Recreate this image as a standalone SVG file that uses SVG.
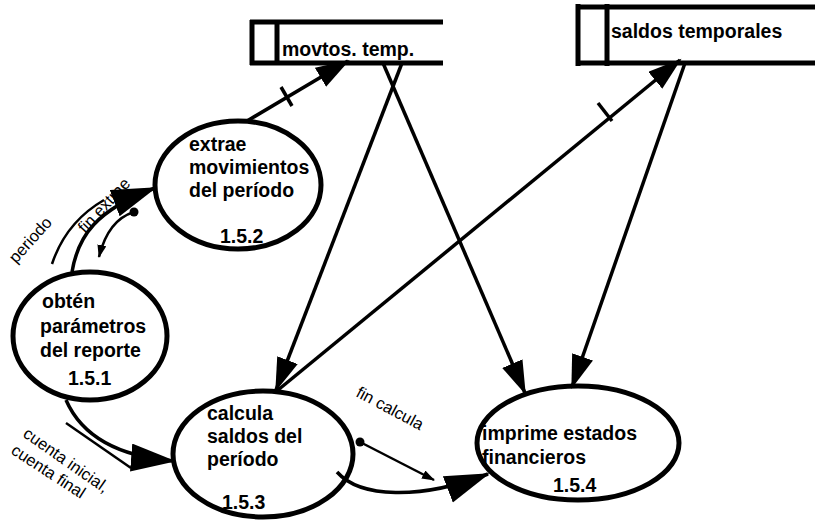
<svg xmlns="http://www.w3.org/2000/svg" width="815" height="521" viewBox="0 0 815 521">
<style>
.bg{fill:#fff}
.proc{fill:none;stroke:#000;stroke-width:5}
.store{fill:none;stroke:#000;stroke-width:5}
.flow{fill:none;stroke:#000;stroke-width:3.5}
.thin{fill:none;stroke:#000;stroke-width:2.5}
.tick{stroke:#000;stroke-width:3.5}
.nt{font-family:"Liberation Sans",Arial,sans-serif;font-weight:bold;font-size:19.5px;fill:#000}
.lbl{font-family:"Liberation Sans",Arial,sans-serif;font-size:16.5px;fill:#000}
</style>
<defs>
<marker id="ah" markerUnits="userSpaceOnUse" markerWidth="36" markerHeight="24" refX="32" refY="11" orient="auto"><path d="M0,0 L34,11 L0,22 z" fill="#000"/></marker>
<marker id="ahL" markerUnits="userSpaceOnUse" markerWidth="48" markerHeight="32" refX="43" refY="14" orient="auto"><path d="M0,0 L45,14 L0,28 z" fill="#000"/></marker>
<marker id="as" markerUnits="userSpaceOnUse" markerWidth="14" markerHeight="10" refX="12" refY="4.5" orient="auto"><path d="M0,0 L13,4.5 L0,9 z" fill="#000"/></marker>
</defs>
<rect class="bg" x="0" y="0" width="815" height="521"/>

<g id="labels-under">
<text class="lbl" transform="translate(85,234) rotate(-47)">fin extrae</text>
</g>

<g id="connectors">
<!-- 1.5.2 -> movtos. temp. -->
<path class="flow" d="M247,121 L348,61" marker-end="url(#ah)"/>
<line class="tick" x1="281" y1="87" x2="292" y2="106"/>
<!-- movtos. temp. -> 1.5.3 -->
<path class="flow" d="M402,63 L276,390" marker-end="url(#ah)"/>
<!-- movtos. temp. -> 1.5.4 -->
<path class="flow" d="M383,63 L525,393" marker-end="url(#ah)"/>
<!-- 1.5.3 -> saldos temporales -->
<path class="flow" d="M278,390 L680,60" marker-end="url(#ah)"/>
<line class="tick" x1="598" y1="103" x2="612" y2="121"/>
<!-- saldos temporales -> 1.5.4 -->
<path class="flow" d="M685,63 L572,387" marker-end="url(#ah)"/>
<!-- 1.5.1 -> 1.5.2 periodo -->
<path class="thin" d="M52,264 Q66,222 104,200"/>
<path class="flow" d="M72,272 C78,236 96,210 155,188" marker-end="url(#ahL)"/>
<!-- fin extrae control flow -->
<circle cx="134" cy="212" r="4.5" fill="#000"/>
<path class="thin" d="M134,212 Q108,220 99,257" marker-end="url(#as)"/>
<!-- 1.5.1 -> 1.5.3 cuenta inicial, cuenta final -->
<path class="flow" d="M66,400 C80,432 112,456 174,461" marker-end="url(#ahL)"/>
<path class="thin" d="M66,423 L131,468"/>
<!-- 1.5.3 -> 1.5.4 -->
<path class="flow" d="M337,472 C360,498 420,500 488,474" marker-end="url(#ahL)"/>
<!-- fin calcula control flow -->
<circle cx="360" cy="442" r="4.5" fill="#000"/>
<path class="thin" d="M360,442 L434,480" marker-end="url(#as)"/>
</g>

<g id="store-movtos">
<line class="store" x1="250" y1="22" x2="443" y2="22"/>
<line class="store" x1="250" y1="63" x2="443" y2="63"/>
<line class="store" x1="252" y1="20" x2="252" y2="65"/>
<line class="store" x1="277" y1="20" x2="277" y2="65"/>
<text class="nt" x="282" y="56">movtos. temp.</text>
</g>

<g id="store-saldos">
<line class="store" x1="576" y1="7" x2="815" y2="7"/>
<line class="store" x1="576" y1="63" x2="815" y2="63"/>
<line class="store" x1="578" y1="4" x2="578" y2="66"/>
<line class="store" x1="607" y1="4" x2="607" y2="66"/>
<text class="nt" x="611" y="38">saldos temporales</text>
</g>

<g id="p151">
<ellipse class="proc" cx="90" cy="336" rx="77" ry="64"/>
<text class="nt" x="42" y="308">obtén</text>
<text class="nt" x="40" y="333">parámetros</text>
<text class="nt" x="40" y="357">del reporte</text>
<text class="nt" x="68" y="385">1.5.1</text>
</g>

<g id="p152">
<ellipse class="proc" cx="238" cy="185" rx="83" ry="64"/>
<text class="nt" x="189" y="151">extrae</text>
<text class="nt" x="189" y="174">movimientos</text>
<text class="nt" x="189" y="197">del período</text>
<text class="nt" x="220" y="243">1.5.2</text>
</g>

<g id="p153">
<ellipse class="proc" cx="263" cy="454" rx="90" ry="63"/>
<text class="nt" x="207" y="420">calcula</text>
<text class="nt" x="207" y="443">saldos del</text>
<text class="nt" x="207" y="466">período</text>
<text class="nt" x="222" y="509">1.5.3</text>
</g>

<g id="p154">
<ellipse class="proc" cx="578" cy="443" rx="101" ry="57"/>
<text class="nt" x="482" y="440">imprime estados</text>
<text class="nt" x="482" y="464">financieros</text>
<text class="nt" x="553" y="492">1.5.4</text>
</g>

<g id="labels">
<text class="lbl" transform="translate(16,264) rotate(-48)">periodo</text>
<text class="lbl" transform="translate(22,436) rotate(35)">cuenta inicial,</text>
<text class="lbl" transform="translate(10,453) rotate(33)">cuenta final</text>
<text class="lbl" transform="translate(355,396) rotate(28)">fin calcula</text>
</g>
</svg>
